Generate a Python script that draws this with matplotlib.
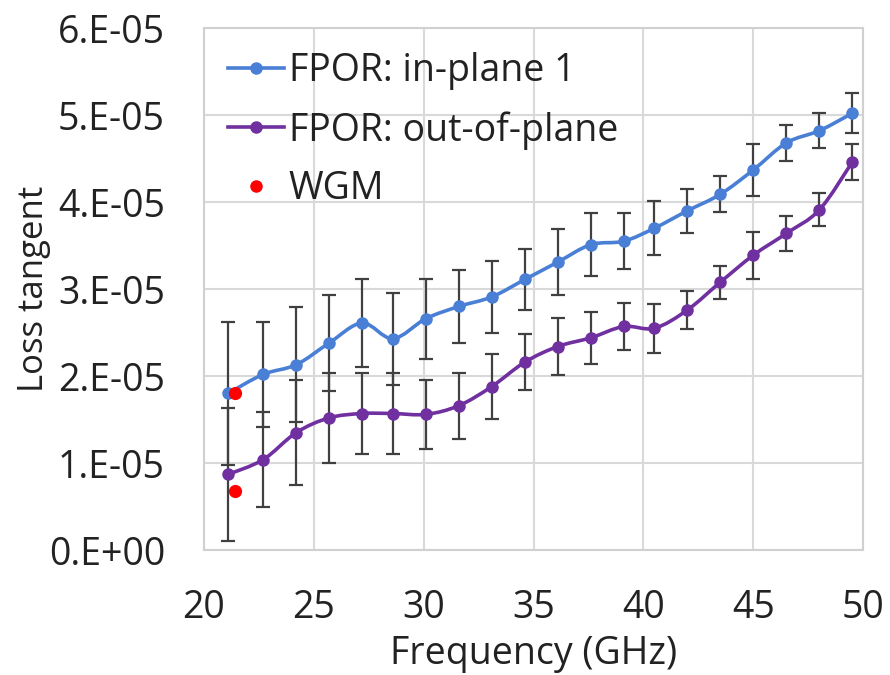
import numpy as np
import matplotlib.pyplot as plt
from matplotlib.path import Path
from matplotlib.patches import PathPatch
from matplotlib.lines import Line2D

plt.rcParams['font.family'] = ['Open Sans', 'DejaVu Sans']

# Frequency (GHz)
freq = [21.1, 22.7, 24.2, 25.7, 27.2, 28.6, 30.1, 31.6, 33.1, 34.6,
        36.1, 37.6, 39.1, 40.5, 42.0, 43.5, 45.0, 46.5, 48.0, 49.5]

# Loss tangent (x1e-5)
in_plane = [1.80, 2.02, 2.13, 2.38, 2.61, 2.43, 2.66, 2.80, 2.91, 3.11,
            3.31, 3.51, 3.55, 3.70, 3.90, 4.09, 4.37, 4.68, 4.82, 5.02]
in_plane_err = [0.82, 0.60, 0.66, 0.55, 0.51, 0.53, 0.46, 0.42, 0.41, 0.35,
                0.38, 0.36, 0.32, 0.31, 0.25, 0.21, 0.30, 0.21, 0.20, 0.23]
out_plane = [0.87, 1.04, 1.35, 1.52, 1.57, 1.57, 1.56, 1.66, 1.88, 2.16,
             2.34, 2.44, 2.57, 2.55, 2.76, 3.08, 3.39, 3.64, 3.91, 4.46]
out_plane_err = [0.76, 0.55, 0.60, 0.52, 0.46, 0.46, 0.40, 0.38, 0.37, 0.32,
                 0.33, 0.30, 0.27, 0.28, 0.22, 0.19, 0.27, 0.20, 0.19, 0.21]

wgm_freq = [21.4, 21.4]
wgm_tan = [1.80, 0.68]

yticks = [0, 1, 2, 3, 4, 5, 6]
ytick_labels = ['0.E+00', '1.E-05', '2.E-05', '3.E-05', '4.E-05', '5.E-05', '6.E-05']

blue = '#4a7fd6'
purple = '#7030a0'
txt = '#222222'


def smooth_path(x, y):
    # Excel-style smoothed line: cubic Bezier through the points
    p = np.column_stack([x, y])
    verts = [p[0]]
    codes = [Path.MOVETO]
    n = len(p)
    for i in range(n - 1):
        p0 = p[i - 1] if i > 0 else p[i]
        p3 = p[i + 2] if i + 2 < n else p[i + 1]
        c1 = p[i] + (p[i + 1] - p0) / 6
        c2 = p[i + 1] - (p3 - p[i]) / 6
        verts += [c1, c2, p[i + 1]]
        codes += [Path.CURVE4] * 3
    return Path(verts, codes)


fig = plt.figure(figsize=(8.9, 6.75), dpi=100)
ax = fig.add_axes([0.229, 0.185, 0.741, 0.7735])

for yv, err, col in [(in_plane, in_plane_err, blue), (out_plane, out_plane_err, purple)]:
    ax.errorbar(freq, yv, yerr=err, fmt='none', ecolor='#404040',
                elinewidth=1.6, capsize=5, capthick=1.6, zorder=2)
    ax.add_patch(PathPatch(smooth_path(freq, yv), facecolor='none',
                           edgecolor=col, lw=2.6, zorder=3))
    ax.plot(freq, yv, 'o', color=col, ms=8, zorder=4)

ax.plot(wgm_freq, wgm_tan, 'o', color='#ff0000', ms=8.5, zorder=5)

ax.set_xlim(20, 50)
ax.set_ylim(0, 6)
ax.set_xticks([20, 25, 30, 35, 40, 45, 50])
ax.set_yticks(yticks)
ax.set_yticklabels(ytick_labels)
ax.tick_params(axis='both', length=0, labelsize=27, colors=txt)
ax.tick_params(axis='x', pad=28)
ax.tick_params(axis='y', pad=28)
ax.grid(True, color='#d9d9d9', lw=1.5)
ax.set_axisbelow(True)
for s in ax.spines.values():
    s.set_color('#d0d0d0')
    s.set_linewidth(1.5)

ax.set_xlabel('Frequency (GHz)', fontsize=27, color=txt, labelpad=6)
ax.set_ylabel('Loss tangent', fontsize=25, color=txt, labelpad=-2)

handles = [
    Line2D([], [], color=blue, lw=2.6, marker='o', ms=8),
    Line2D([], [], color=purple, lw=2.6, marker='o', ms=8),
    Line2D([], [], color='#ff0000', lw=0, marker='o', ms=8),
]
ax.legend(handles, ['FPOR: in-plane 1', 'FPOR: out-of-plane', 'WGM'],
          loc='upper left', frameon=False, fontsize=27, handlelength=1.5,
          handletextpad=0.12, labelspacing=0.55, borderaxespad=0.25,
          bbox_to_anchor=(0.0, 1.0), labelcolor=txt)

fig.savefig('out.png', dpi=100)
